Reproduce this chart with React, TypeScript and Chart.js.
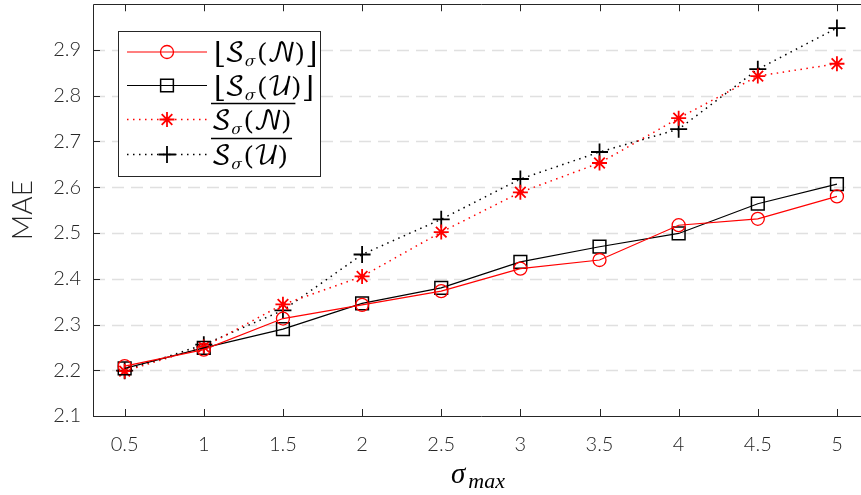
import React, { useEffect, useRef } from "react";
import { Chart, registerables } from "chart.js";

Chart.register(...registerables);

// ---- data ----
const xValues = [0.5, 1, 1.5, 2, 2.5, 3, 3.5, 4, 4.5, 5];
const xTickLabels = ["0.5", "1", "1.5", "2", "2.5", "3", "3.5", "4", "4.5", "5"];
const yTickValues = [2.1, 2.2, 2.3, 2.4, 2.5, 2.6, 2.7, 2.8, 2.9];
const yTickLabels = ["2.1", "2.2", "2.3", "2.4", "2.5", "2.6", "2.7", "2.8", "2.9"];

const floorN = [2.209, 2.245, 2.313, 2.343, 2.373, 2.422, 2.441, 2.517, 2.531, 2.580];
const floorU = [2.204, 2.249, 2.290, 2.346, 2.380, 2.437, 2.470, 2.499, 2.564, 2.607];
const barN = [2.198, 2.251, 2.344, 2.405, 2.502, 2.589, 2.653, 2.751, 2.843, 2.870];
const barU = [2.199, 2.256, 2.331, 2.453, 2.530, 2.618, 2.677, 2.727, 2.858, 2.948];

const seriesLabels = ["⌊𝒮σ(𝒩)⌋", "⌊𝒮σ(𝒰)⌋", "‾𝒮σ(𝒩)", "‾𝒮σ(𝒰)"];

const AXIS = "#262626";
const RED = "#ff0000";
const BLACK = "#000000";
const FAMILY = 'Lato, "Open Sans", "DejaVu Sans", sans-serif';
const X_TICK_FONT = { family: FAMILY, size: 20, weight: "300" as any };
const Y_TICK_FONT = { family: FAMILY, size: 20, weight: "300" as any, lineHeight: 0.4 };
const MATH = '"DejaVu Math TeX Gyre", "DejaVu Serif", serif';

function drawMarker(ctx: CanvasRenderingContext2D, style: string, x: number, y: number, r: number, color: string, lw: number) {
  ctx.save();
  ctx.strokeStyle = color;
  ctx.lineWidth = lw;
  ctx.setLineDash([]);
  ctx.beginPath();
  if (style === "circle") {
    ctx.arc(x, y, r, 0, Math.PI * 2);
  } else if (style === "rect") {
    const s = r * Math.SQRT1_2;
    ctx.rect(x - s, y - s, 2 * s, 2 * s);
  } else if (style === "cross") {
    ctx.moveTo(x - r, y); ctx.lineTo(x + r, y);
    ctx.moveTo(x, y - r); ctx.lineTo(x, y + r);
  } else if (style === "star") {
    ctx.moveTo(x - r, y); ctx.lineTo(x + r, y);
    ctx.moveTo(x, y - r); ctx.lineTo(x, y + r);
    const d = r * Math.SQRT1_2;
    ctx.moveTo(x - d, y - d); ctx.lineTo(x + d, y + d);
    ctx.moveTo(x - d, y + d); ctx.lineTo(x + d, y - d);
  }
  ctx.stroke();
  ctx.restore();
}

type Piece = { t: string; size: number; dy?: number; kern?: number; italic?: boolean };

function drawPieces(ctx: CanvasRenderingContext2D, x: number, y: number, pieces: Piece[]) {
  let cx = x;
  for (const p of pieces) {
    ctx.font = `${p.italic ? "italic " : ""}${p.size}px ${MATH}`;
    ctx.fillText(p.t, cx, y + (p.dy || 0));
    cx += ctx.measureText(p.t).width + (p.kern || 0);
  }
  return cx;
}

function mathPieces(letter: string, floor: boolean): Piece[] {
  const arr: Piece[] = [];
  if (floor) arr.push({ t: "⌊", size: 30, kern: -1, dy: 1 });
  arr.push({ t: "𝒮", size: 26, kern: -1 });
  arr.push({ t: "σ", size: 15, dy: 5, italic: true, kern: 1 });
  arr.push({ t: "(", size: 26 });
  arr.push({ t: letter, size: 26, kern: -1 });
  arr.push({ t: ")", size: 26, kern: 0 });
  if (floor) arr.push({ t: "⌋", size: 30, dy: 1 });
  return arr;
}

const framePlugin = {
  id: "frame",
  beforeDatasetsDraw(chart: any) {
    const { ctx, chartArea } = chart;
    const y = chart.scales.y;
    ctx.save();
    ctx.strokeStyle = "#e0e0e0";
    ctx.lineWidth = 1.5;
    ctx.setLineDash([12, 7]);
    for (const v of yTickValues) {
      if (v === yTickValues[0]) continue;
      const py = Math.round(y.getPixelForValue(v)) + 0.5;
      ctx.beginPath();
      ctx.moveTo(chartArea.left, py);
      ctx.lineTo(chartArea.right, py);
      ctx.stroke();
    }
    ctx.restore();
  },
  afterDatasetsDraw(chart: any) {
    const { ctx, chartArea } = chart;
    const { left, right, top, bottom } = chartArea;
    const xs = chart.scales.x;
    const ys = chart.scales.y;
    ctx.save();
    ctx.strokeStyle = AXIS;
    ctx.lineWidth = 1;
    ctx.setLineDash([]);
    ctx.beginPath();
    ctx.rect(Math.round(left) + 0.5, Math.round(top) + 0.5, Math.round(right - left), Math.round(bottom - top));
    ctx.stroke();
    const tl = 7;
    ctx.beginPath();
    for (const v of xValues) {
      const px = Math.round(xs.getPixelForValue(v)) + 0.5;
      ctx.moveTo(px, bottom); ctx.lineTo(px, bottom - tl);
      ctx.moveTo(px, top); ctx.lineTo(px, top + tl);
    }
    for (const v of yTickValues) {
      const py = Math.round(ys.getPixelForValue(v)) + 0.5;
      ctx.moveTo(left, py); ctx.lineTo(left + tl, py);
      ctx.moveTo(right, py); ctx.lineTo(right - tl, py);
    }
    ctx.stroke();
    ctx.restore();
  },
  afterDraw(chart: any) {
    const { ctx } = chart;
    ctx.save();
    // x axis title: sigma_max
    ctx.fillStyle = BLACK;
    ctx.textBaseline = "alphabetic";
    ctx.textAlign = "left";
    const big = `italic 29px "Liberation Serif", "DejaVu Serif", serif`;
    const small = `italic 22px "Liberation Serif", "DejaVu Serif", serif`;
    ctx.font = big;
    const sW = ctx.measureText("σ").width;
    ctx.font = small;
    const mW = ctx.measureText("max").width;
    const cx = 478;
    const x0 = cx - (sW + 3 + mW) / 2;
    ctx.font = big;
    ctx.fillText("σ", x0, 483);
    ctx.font = small;
    ctx.fillText("max", x0 + sW + 3, 488);

    // legend
    const bx = 118.5, by = 31.5, bw = 202, bh = 145;
    ctx.fillStyle = "#ffffff";
    ctx.fillRect(bx, by, bw, bh);
    ctx.strokeStyle = AXIS;
    ctx.lineWidth = 1;
    ctx.strokeRect(bx, by, bw, bh);
    const rows = [
      { y: 52, color: RED, dash: [] as number[], marker: "circle", r: 6.5, mlw: 1.3, letter: "𝒩", floor: true },
      { y: 85.5, color: BLACK, dash: [], marker: "rect", r: 9, mlw: 1.5, letter: "𝒰", floor: true },
      { y: 119.5, color: RED, dash: [1.5, 4.5], marker: "star", r: 7.5, mlw: 1.8, letter: "𝒩", floor: false },
      { y: 154.5, color: BLACK, dash: [1.5, 4.5], marker: "cross", r: 8.5, mlw: 1.8, letter: "𝒰", floor: false },
    ];
    for (const r of rows) {
      ctx.save();
      ctx.strokeStyle = r.color;
      ctx.lineWidth = r.dash.length ? 1.5 : 1.2;
      ctx.setLineDash(r.dash);
      ctx.beginPath();
      ctx.moveTo(127, r.y);
      ctx.lineTo(207, r.y);
      ctx.stroke();
      ctx.restore();
      drawMarker(ctx, r.marker, 167, r.y, r.r, r.color, r.mlw);
      ctx.fillStyle = BLACK;
      const tx = r.floor ? 213 : 211;
      const end = drawPieces(ctx, tx, r.y + 9, mathPieces(r.letter, r.floor));
      if (!r.floor) {
        ctx.strokeStyle = BLACK;
        ctx.lineWidth = 1.3;
        ctx.setLineDash([]);
        ctx.beginPath();
        ctx.moveTo(tx, r.y - 16);
        ctx.lineTo(end + 3, r.y - 16);
        ctx.stroke();
      }
    }
    ctx.restore();
  },
};

function pts(arr: number[]) {
  return xValues.map((x, i) => ({ x, y: arr[i] }));
}

export default function App() {
  const ref = useRef<HTMLCanvasElement | null>(null);
  useEffect(() => {
    if (!ref.current) return;
    const chart = new Chart(ref.current, {
      type: "line",
      data: {
        datasets: [
          {
            label: seriesLabels[0], data: pts(floorN), borderColor: RED, backgroundColor: "transparent",
            borderWidth: 1.2, pointStyle: "circle", pointRadius: 6.5, pointBorderWidth: 1.3,
            pointBorderColor: RED, pointBackgroundColor: "rgba(0,0,0,0)", tension: 0,
          },
          {
            label: seriesLabels[1], data: pts(floorU), borderColor: BLACK, backgroundColor: "transparent",
            borderWidth: 1.2, pointStyle: "rect", pointRadius: 9, pointBorderWidth: 1.5,
            pointBorderColor: BLACK, pointBackgroundColor: "rgba(0,0,0,0)", tension: 0,
          },
          {
            label: seriesLabels[2], data: pts(barN), borderColor: RED, backgroundColor: "transparent",
            borderWidth: 1.5, borderDash: [1.5, 4.5], pointStyle: "star", pointRadius: 7.5, pointBorderWidth: 1.8,
            pointBorderColor: RED, pointBackgroundColor: RED, tension: 0,
          },
          {
            label: seriesLabels[3], data: pts(barU), borderColor: BLACK, backgroundColor: "transparent",
            borderWidth: 1.5, borderDash: [1.5, 4.5], pointStyle: "cross", pointRadius: 8.5, pointBorderWidth: 1.8,
            pointBorderColor: BLACK, pointBackgroundColor: BLACK, tension: 0,
          },
        ] as any,
      },
      options: {
        responsive: false,
        animation: false,
        devicePixelRatio: 1,
        layout: { autoPadding: false, padding: { top: 4.25, right: 11.4, left: 0, bottom: 0 } },
        plugins: { legend: { display: false }, tooltip: { enabled: false } },
        scales: {
          x: {
            type: "linear",
            min: 0.3,
            max: 5.2,
            afterBuildTicks: (s: any) => { s.ticks = xValues.map((v) => ({ value: v })); },
            afterFit: (s: any) => { s.height = 79; s.paddingTop = 0; s.paddingBottom = 0; },
            grid: { display: false, drawTicks: false, tickLength: 0 },
            border: { display: false },
            ticks: {
              autoSkip: false, maxRotation: 0, padding: 17, color: AXIS, font: X_TICK_FONT,
              callback: (_v: any, i: number) => xTickLabels[i],
            },
          },
          y: {
            type: "linear",
            min: 2.1,
            max: 3.0,
            afterBuildTicks: (s: any) => { s.ticks = yTickValues.map((v) => ({ value: v })); },
            afterFit: (s: any) => { s.width = 93; s.paddingTop = 0; s.paddingBottom = 0; },
            grid: { display: false, drawTicks: false, tickLength: 0 },
            border: { display: false },
            ticks: {
              padding: 12, color: AXIS, font: Y_TICK_FONT,
              callback: (_v: any, i: number) => yTickLabels[i],
            },
            title: {
              display: true, text: "MAE", color: AXIS,
              font: { family: FAMILY, size: 28, weight: "300" as any },
              padding: { top: 6, bottom: 0 },
            },
          },
        },
      },
      plugins: [framePlugin],
    });
    return () => chart.destroy();
  }, []);
  return (
    <div style={{ position: "fixed", left: 0, top: 0, width: 861, height: 495, overflow: "hidden", background: "#fff" }}>
      <canvas ref={ref} width={880} height={495} style={{ display: "block", width: 880, height: 495 }} />
    </div>
  );
}
